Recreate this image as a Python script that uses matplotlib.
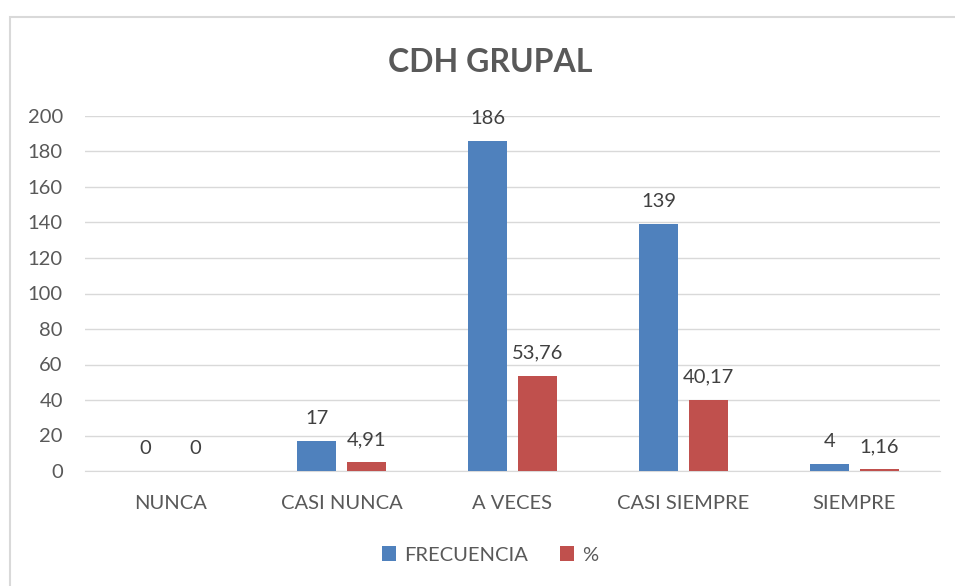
import numpy as np
import matplotlib.pyplot as plt
from matplotlib.patches import Rectangle

plt.rcParams["font.family"] = ["Lato", "DejaVu Sans"]

categories = ["NUNCA", "CASI NUNCA", "A VECES", "CASI SIEMPRE", "SIEMPRE"]
frecuencia = [0, 17, 186, 139, 4]
porcentaje = [0, 4.91, 53.76, 40.17, 1.16]
frec_labels = ["0", "17", "186", "139", "4"]
pct_labels = ["0", "4,91", "53,76", "40,17", "1,16"]
yticks = [0, 20, 40, 60, 80, 100, 120, 140, 160, 180, 200]

blue = "#4f81bd"
red = "#c0504d"
text_grey = "#595959"
label_grey = "#404040"
fs = 14.5

fig = plt.figure(figsize=(9.55, 5.86), dpi=100)
ax = fig.add_axes([85 / 955, 1 - 471 / 586, 855 / 955, 355 / 586])

x = np.arange(len(categories))
w = 0.23
off = 0.145
ax.bar(x - off, frecuencia, w, color=blue, label="FRECUENCIA", zorder=3)
ax.bar(x + off, porcentaje, w, color=red, label="%", zorder=3)

for xi, v, s in zip(x, frecuencia, frec_labels):
    ax.annotate(s, (xi - off, v), xytext=(0, 10), textcoords="offset points",
                ha="center", va="bottom", fontsize=fs, color=label_grey)
for xi, v, s in zip(x, porcentaje, pct_labels):
    ax.annotate(s, (xi + off, v), xytext=(0, 10), textcoords="offset points",
                ha="center", va="bottom", fontsize=fs, color=label_grey)

ax.set_xlim(-0.5, len(categories) - 0.5)
ax.set_ylim(0, 200)
ax.set_yticks(yticks)
ax.set_xticks(x, categories)
ax.tick_params(axis="both", length=0, labelsize=fs, colors=text_grey)
ax.tick_params(axis="x", pad=17)
ax.tick_params(axis="y", pad=16)
ax.grid(axis="y", color="#d9d9d9", lw=1, zorder=0)
for sp in ["top", "right", "left"]:
    ax.spines[sp].set_visible(False)
ax.spines["bottom"].set_color("#d9d9d9")

fig.text(490 / 955, 1 - 63 / 586, "CDH GRUPAL", ha="center", va="center",
         fontsize=23, fontweight="bold", color=text_grey)

fig.legend(loc="center", bbox_to_anchor=(490 / 955, 1 - 555 / 586), ncol=2,
           frameon=False, fontsize=fs, labelcolor=text_grey,
           handlelength=0.7, handleheight=0.7, columnspacing=1.6, handletextpad=0.4)

fig.patches.append(Rectangle((10 / 955, -0.1), 1.2, 1.1 - 17 / 586,
                             transform=fig.transFigure, fill=False,
                             edgecolor="#d9d9d9", lw=1.5))

fig.savefig("out.png", dpi=100, facecolor="white")
